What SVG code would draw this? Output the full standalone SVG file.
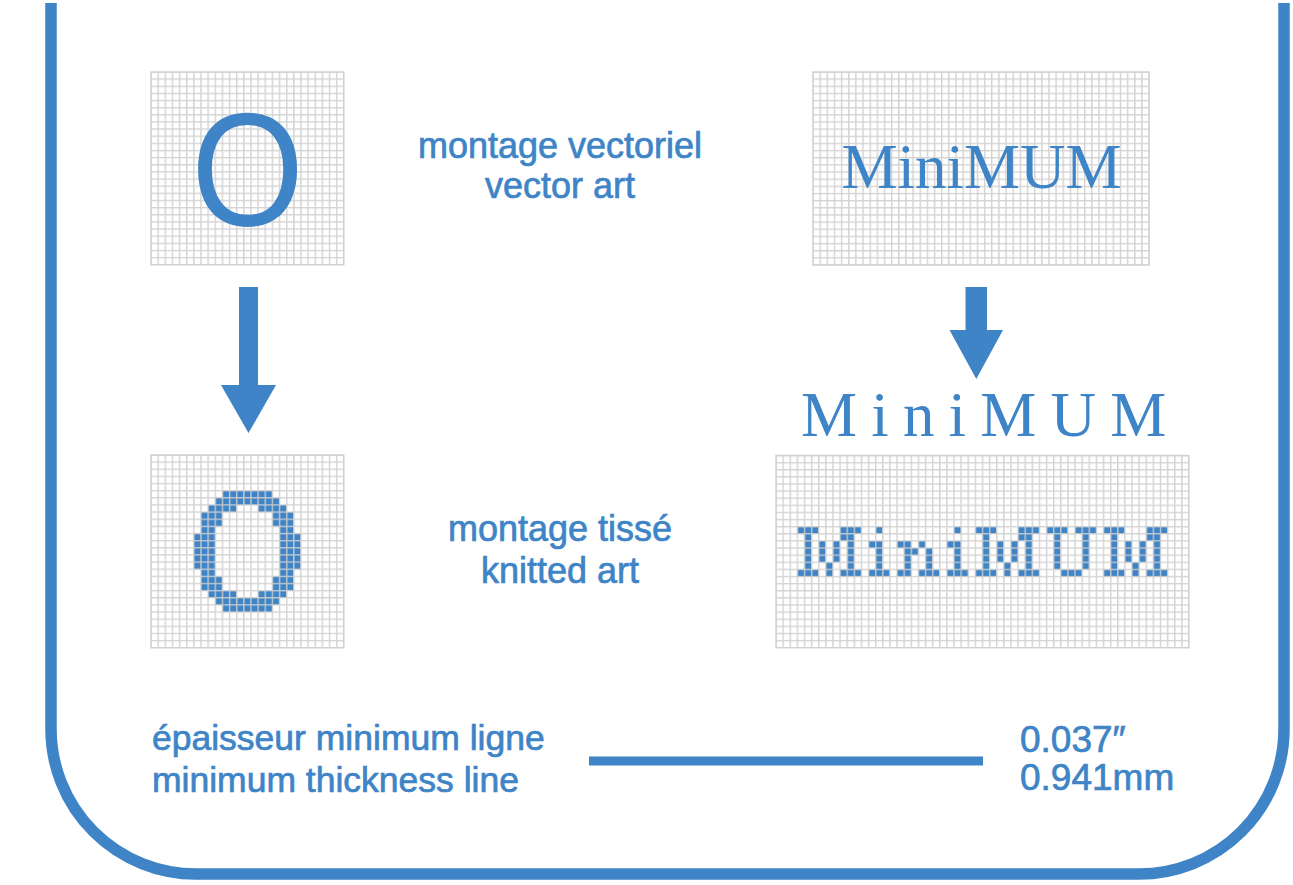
<svg xmlns="http://www.w3.org/2000/svg" width="1293" height="885" viewBox="0 0 1293 885">
<style>
.lbl{font-family:"Liberation Sans","Open Sans",sans-serif;font-size:36px;fill:#3e84c6;stroke:#3e84c6;stroke-width:0.7;text-anchor:middle}
.lft{font-family:"Liberation Sans","Open Sans",sans-serif;font-size:35.5px;fill:#3e84c6;stroke:#3e84c6;stroke-width:0.7}
.num{font-family:"Liberation Sans","Open Sans",sans-serif;font-size:37px;fill:#3e84c6;stroke:#3e84c6;stroke-width:0.7}
.ser{font-family:"Liberation Serif","Times New Roman",serif;font-size:63px;fill:#3e84c6}
.cells rect{fill:#3e84c6}
.gbg{fill:#ffffff}
.gln{fill:url(#grid)}
.gbd{fill:none;stroke:#d0d0d0;stroke-width:0.2}
.blue{fill:#3e84c6}
</style>
<defs>
<pattern id="grid" x="-0.1" y="-0.1" width="1" height="1" patternUnits="userSpaceOnUse">
<path d="M0 0.1H1M0.1 0V1" stroke="#cfcfcf" stroke-opacity="0.9" stroke-width="0.2" fill="none"/>
</pattern>
</defs>
<rect width="1293" height="885" fill="#ffffff"/>
<path id="frame" d="M51 3V729A145 145 0 0 0 196 874H1139A145 145 0 0 0 1284 729V3" fill="none" stroke="#3e84c6" stroke-width="11.5"/>

<g id="vector-o">
<g transform="translate(151,72) scale(7.14)">
<rect class="gbg" width="27" height="27"/>
<rect class="gln" width="27" height="27"/>
<rect class="gbd" width="27" height="27"/>
</g>
<text transform="translate(247.5,225) scale(0.9,1)" style="font-family:'Liberation Sans',Arial,sans-serif;font-size:161px;fill:#3e84c6;text-anchor:middle">O</text>
</g>

<g id="vector-minimum">
<g transform="translate(813,72) scale(7.15)">
<rect class="gbg" width="47" height="27"/>
<rect class="gln" width="47" height="27"/>
<rect class="gbd" width="47" height="27"/>
</g>
<text class="ser" x="981.5" y="188" text-anchor="middle">MiniMUM</text>
</g>

<g id="label-vector">
<text class="lbl" x="560" y="158">montage vectoriel</text>
<text class="lbl" x="560" y="198">vector art</text>
</g>

<g id="spaced-minimum">
<text class="ser" x="801" y="436" letter-spacing="14.2">MiniMUM</text>
</g>

<g id="knitted-o">
<g transform="translate(151,455) scale(7.14)">
<rect class="gbg" width="27" height="27"/>
<g class="cells">
<rect x="10" y="5" width="7" height="1"/>
<rect x="9" y="6" width="9" height="1"/>
<rect x="8" y="7" width="4" height="1"/><rect x="15" y="7" width="4" height="1"/>
<rect x="7" y="8" width="3" height="2"/><rect x="17" y="8" width="3" height="2"/>
<rect x="7" y="10" width="2" height="1"/><rect x="18" y="10" width="2" height="1"/>
<rect x="6" y="11" width="3" height="5"/><rect x="18" y="11" width="3" height="5"/>
<rect x="7" y="16" width="2" height="1"/><rect x="18" y="16" width="2" height="1"/>
<rect x="7" y="17" width="3" height="2"/><rect x="17" y="17" width="3" height="2"/>
<rect x="8" y="19" width="4" height="1"/><rect x="15" y="19" width="4" height="1"/>
<rect x="9" y="20" width="9" height="1"/>
<rect x="10" y="21" width="7" height="1"/>
</g>
<rect class="gln" width="27" height="27"/>
<rect class="gbd" width="27" height="27"/>
</g>
</g>

<g id="label-knitted">
<text class="lbl" x="560" y="541">montage tissé</text>
<text class="lbl" x="560" y="583">knitted art</text>
</g>

<g id="knitted-minimum">
<g transform="translate(776,455.5) scale(7.12)">
<rect class="gbg" width="58" height="27"/>
<g class="cells">
<g id="m1">
<rect x="3" y="10" width="3" height="1"/><rect x="9" y="10" width="3" height="1"/>
<rect x="4" y="11" width="1" height="5"/><rect x="9" y="11" width="2" height="1"/>
<rect x="6" y="12" width="1" height="3"/><rect x="8" y="12" width="1" height="3"/>
<rect x="10" y="12" width="1" height="4"/>
<rect x="7" y="15" width="1" height="2"/>
<rect x="3" y="16" width="3" height="1"/><rect x="9" y="16" width="3" height="1"/>
</g>
<g id="i1">
<rect x="14" y="10" width="1" height="1"/>
<rect x="13" y="12" width="2" height="1"/>
<rect x="14" y="13" width="1" height="3"/>
<rect x="13" y="16" width="3" height="1"/>
</g>
<g id="n1">
<rect x="17" y="12" width="2" height="1"/><rect x="20" y="12" width="1" height="1"/>
<rect x="18" y="13" width="2" height="1"/><rect x="21" y="13" width="1" height="3"/>
<rect x="18" y="14" width="1" height="2"/>
<rect x="17" y="16" width="2" height="1"/><rect x="20" y="16" width="3" height="1"/>
</g>
<g id="i2">
<rect x="25" y="10" width="1" height="1"/>
<rect x="24" y="12" width="2" height="1"/>
<rect x="25" y="13" width="1" height="3"/>
<rect x="24" y="16" width="3" height="1"/>
</g>
<g id="m2">
<rect x="28" y="10" width="3" height="1"/><rect x="34" y="10" width="3" height="1"/>
<rect x="29" y="11" width="1" height="5"/><rect x="34" y="11" width="2" height="1"/>
<rect x="31" y="12" width="1" height="3"/><rect x="33" y="12" width="1" height="3"/>
<rect x="35" y="12" width="1" height="4"/>
<rect x="32" y="15" width="1" height="2"/>
<rect x="28" y="16" width="3" height="1"/><rect x="34" y="16" width="3" height="1"/>
</g>
<g id="u1">
<rect x="38" y="10" width="3" height="1"/><rect x="42" y="10" width="3" height="1"/>
<rect x="39" y="11" width="1" height="5"/><rect x="43" y="11" width="1" height="5"/>
<rect x="40" y="16" width="3" height="1"/>
</g>
<g id="m3">
<rect x="46" y="10" width="3" height="1"/><rect x="52" y="10" width="3" height="1"/>
<rect x="47" y="11" width="1" height="5"/><rect x="52" y="11" width="2" height="1"/>
<rect x="49" y="12" width="1" height="3"/><rect x="51" y="12" width="1" height="3"/>
<rect x="53" y="12" width="1" height="4"/>
<rect x="50" y="15" width="1" height="2"/>
<rect x="46" y="16" width="3" height="1"/><rect x="52" y="16" width="3" height="1"/>
</g>
</g>
<rect class="gln" width="58" height="27"/>
<rect class="gbd" width="58" height="27"/>
</g>
</g>

<g id="connectors">
<polygon class="blue" points="239,287 258,287 258,385 276,385 248.5,433 221,385 239,385"/>
<polygon class="blue" points="965.5,287 987,287 987,330 1003,330 976.3,379 949.5,330 965.5,330"/>
</g>

<g id="thickness">
<text class="lft" x="152" y="750">épaisseur minimum ligne</text>
<text class="lft" x="152" y="792">minimum thickness line</text>
<rect class="blue" x="589" y="756.5" width="394" height="9"/>
<text class="num" x="1020" y="752">0.037″</text>
<text class="num" x="1020" y="790">0.941mm</text>
</g>
</svg>
